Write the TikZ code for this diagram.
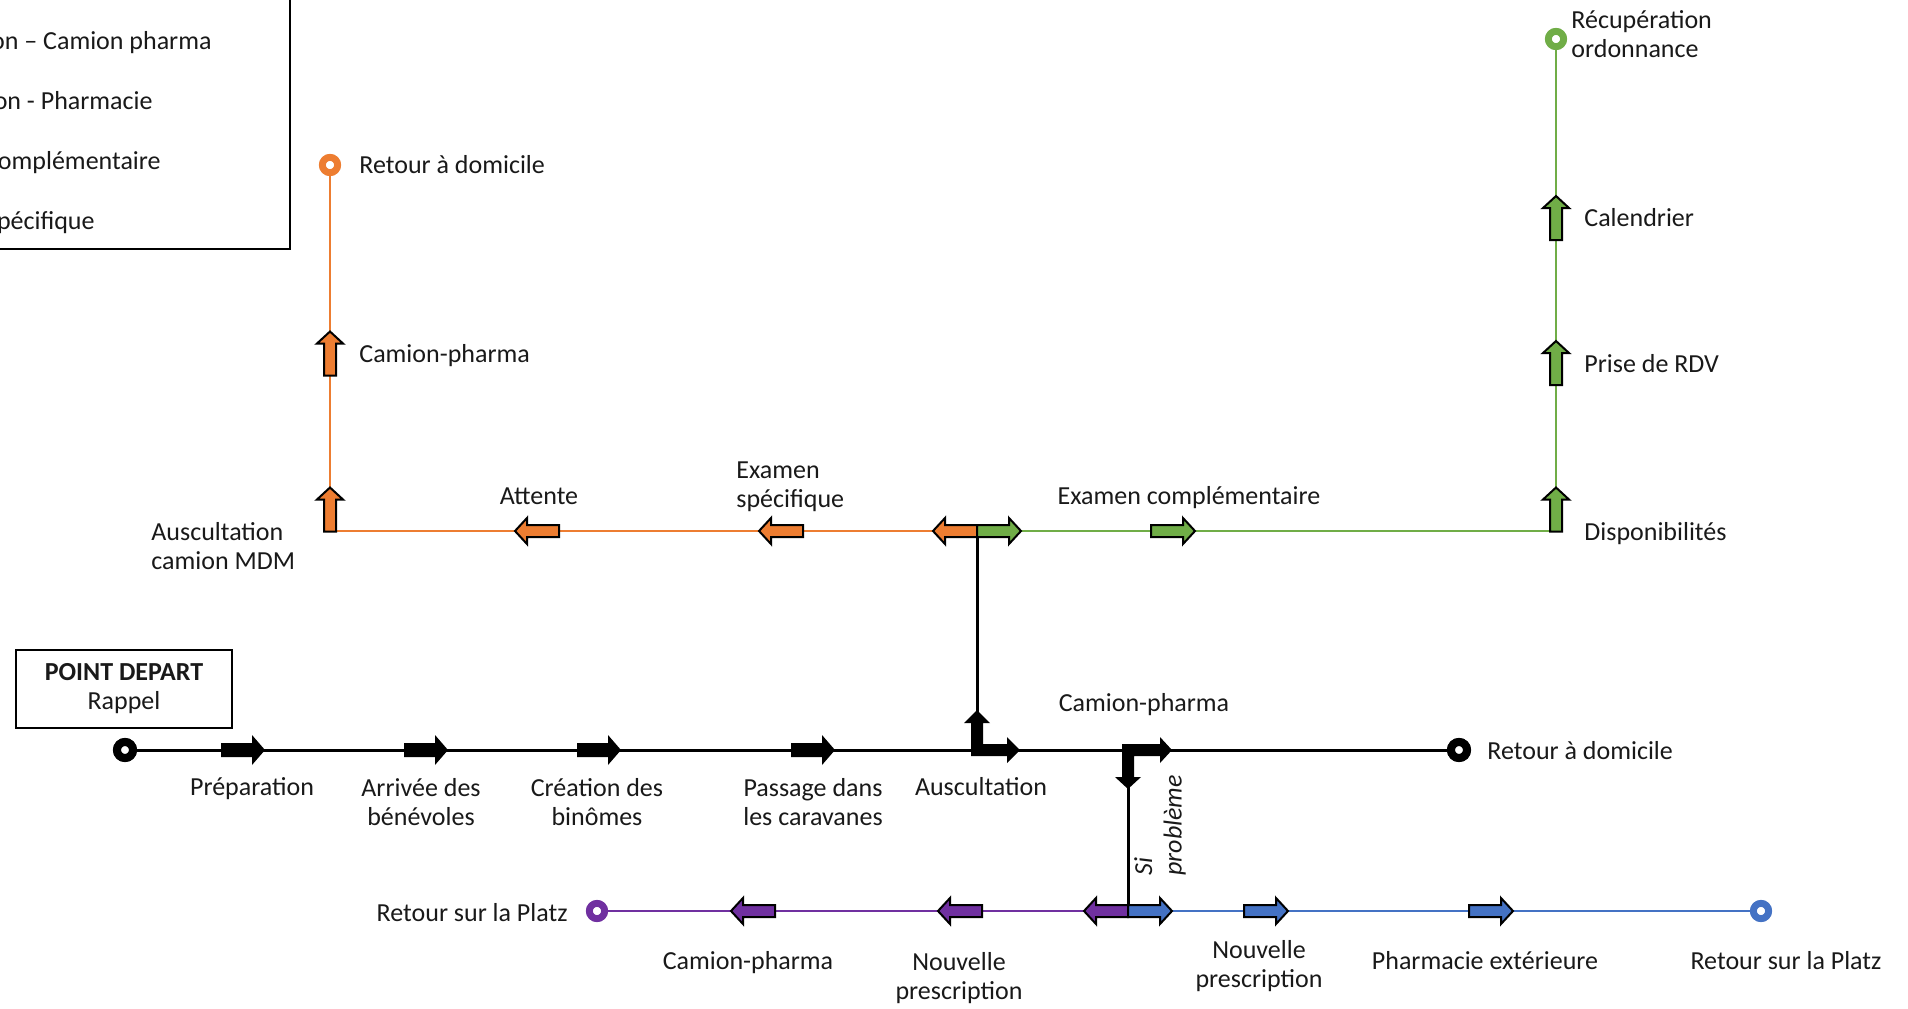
\documentclass[tikz,border=0pt]{standalone}
\usepackage{fontspec}
\setmainfont{Carlito}
\definecolor{corange}{HTML}{ED7D31}
\definecolor{cgreen}{HTML}{70AD47}
\definecolor{cblue}{HTML}{4472C4}
\definecolor{cpurple}{HTML}{7030A0}
\newcommand\lbfont{\fontsize{13}{14.8}\selectfont}
\tikzset{
  lab/.style={inner sep=0pt, font=\lbfont, text=black!90, align=center},
  labl/.style={lab, align=left},
  mk/.pic={\path[pic actions] (-22,-6) -- (10,-6) -- (10,-13) -- (22,0) -- (10,13) -- (10,6) -- (-22,6) -- cycle;},
  bmk/.pic={\path[pic actions] (-22,-7) -- (9,-7) -- (9,-15) -- (22,0) -- (9,15) -- (9,7) -- (-22,7) -- cycle;},
  cmk/.style={draw=black, line width=1pt, line join=miter},
  stn/.style={circle, draw=#1, fill=white, line width=3.4pt, minimum size=7.6pt, inner sep=0pt},
  bstn/.style={circle, draw=black, fill=white, line width=4pt, minimum size=8pt, inner sep=0pt},
  mainline/.style={line width=1.5pt, draw=black},
  colline/.style={line width=1.25pt, draw=#1},
}
\begin{document}
\begin{tikzpicture}[x=0.5pt, y=-0.5pt]
\useasboundingbox (0,0) rectangle (1908,1008);
% legend (cut by the page edge)
\draw[line width=1pt] (-20,-20) rectangle (290,249);
\node[labl, anchor=east] (lg1) at (212,44) {\strut ion – Camion pharma};
\node[labl, anchor=east] (lg2) at (153,104) {\strut ion - Pharmacie};
\node[labl, anchor=east] (lg3) at (161,164) {\strut complémentaire};
\node[labl, anchor=east] (lg4) at (95,224) {\strut spécifique};

% stations
\node[bstn] (s0) at (125,750) {};
\node[bstn] (s1) at (1459,750) {};
\node[stn=corange] (oe) at (330,165) {};
\node[stn=cgreen] (ge) at (1556,39) {};
\node[stn=cpurple] (pe) at (597,911) {};
\node[stn=cblue] (be) at (1761,911) {};
\coordinate (ja) at (977,750);
\coordinate (jb) at (977,531);
\coordinate (jc) at (1128,750);
\coordinate (jd) at (1128,911);
\coordinate (oc) at (330,531);
\coordinate (gc) at (1556,531);

% lines
\draw[colline=corange] (jb) -- (oc) -- (oe);
\draw[colline=cgreen] (jb) -- (gc) -- (ge);
\draw[colline=cpurple] (jd) -- (pe);
\draw[colline=cblue] (jd) -- (be);
\draw[mainline] (s0) -- (s1);
\draw[mainline] (ja) -- (jb);
\draw[mainline] (jc) -- (jd);

% redraw stations on top
\node[bstn] at (s0) {};
\node[bstn] at (s1) {};
\node[stn=corange] at (oe) {};
\node[stn=cgreen] at (ge) {};
\node[stn=cpurple] at (pe) {};
\node[stn=cblue] at (be) {};

% black arrows on main line
\pic[fill=black] at (243,750) {bmk};
\pic[fill=black] at (426,750) {bmk};
\pic[fill=black] at (599,750) {bmk};
\pic[fill=black] at (813,750) {bmk};
% L-shaped arrows
\fill[black] (971,756) -- (971,723) -- (964,723) -- (977,710) -- (990,723) -- (983,723) -- (983,744) -- (1007,744) -- (1007,737) -- (1020,750) -- (1007,763) -- (1007,756) -- cycle;
\fill[black] (1122,744) -- (1160,744) -- (1160,737) -- (1172,750) -- (1160,763) -- (1160,756) -- (1134,756) -- (1134,777) -- (1141,777) -- (1128,789) -- (1115,777) -- (1122,777) -- cycle;

% orange arrows
\pic[cmk, fill=corange, rotate=180] at (537,531) {mk};
\pic[cmk, fill=corange, rotate=180] at (781,531) {mk};
\pic[cmk, fill=corange, rotate=180] at (955,531) {mk};
\pic[cmk, fill=corange, rotate=90] at (330,509.5) {mk};
\pic[cmk, fill=corange, rotate=90] at (330,353.5) {mk};
% green arrows
\pic[cmk, fill=cgreen] at (999,531) {mk};
\pic[cmk, fill=cgreen] at (1173,531) {mk};
\pic[cmk, fill=cgreen, rotate=90] at (1556,509.5) {mk};
\pic[cmk, fill=cgreen, rotate=90] at (1556,363) {mk};
\pic[cmk, fill=cgreen, rotate=90] at (1556,218) {mk};
% purple arrows
\pic[cmk, fill=cpurple, rotate=180] at (753,911) {mk};
\pic[cmk, fill=cpurple, rotate=180] at (960,911) {mk};
\pic[cmk, fill=cpurple, rotate=180] at (1106,911) {mk};
% blue arrows
\pic[cmk, fill=cblue] at (1150,911) {mk};
\pic[cmk, fill=cblue] at (1266,911) {mk};
\pic[cmk, fill=cblue] at (1491,911) {mk};

% start box
\node[lab, draw=black, line width=1pt, minimum width=108pt, minimum height=39pt] (pd) at (124,689) {\strut\textbf{POINT DEPART}\\\strut Rappel};

% main line labels
\node[lab] (t1) at (252,790) {\strut Préparation};
\node[lab] (t2) at (421,805) {\strut Arrivée des\\\strut bénévoles};
\node[lab] (t3) at (597,805) {\strut Création des\\\strut binômes};
\node[lab] (t4) at (813,805) {\strut Passage dans\\\strut les caravanes};
\node[lab] (t5) at (981,790) {\strut Auscultation};
\node[lab] (t6) at (1144,706) {\strut Camion-pharma};
\node[lab, anchor=west] (t7) at (1487,754) {\strut Retour à domicile};
\node[lab, font=\lbfont\itshape, align=left, rotate=90, anchor=north west] (t8) at (1131,876) {\strut Si\\\strut problème};

% orange labels
\node[lab, anchor=west] (o1) at (359,168) {\strut Retour à domicile};
\node[lab, anchor=west] (o2) at (359,357) {\strut Camion-pharma};
\node[labl, anchor=west] (o3) at (151,549) {\strut Auscultation\\\strut camion MDM};
\node[lab] (o4) at (539,499) {\strut Attente};
\node[labl, anchor=west] (o5) at (736,487) {\strut Examen\\\strut spécifique};
\node[lab] (g0) at (1189,499) {\strut Examen complémentaire};

% green labels
\node[labl, anchor=west] (g1) at (1571,37) {\strut Récupération\\\strut ordonnance};
\node[lab, anchor=west] (g2) at (1584,221) {\strut Calendrier};
\node[lab, anchor=west] (g3) at (1584,367) {\strut Prise de RDV};
\node[lab, anchor=west] (g4) at (1584,535) {\strut Disponibilités};

% purple / blue labels
\node[lab, anchor=east] (p1) at (568,916) {\strut Retour sur la Platz};
\node[lab] (p2) at (748,964) {\strut Camion-pharma};
\node[lab] (p3) at (959,979) {\strut Nouvelle\\\strut prescription};
\node[lab] (b1) at (1259,967) {\strut Nouvelle\\\strut prescription};
\node[lab] (b2) at (1485,964) {\strut Pharmacie extérieure};
\node[lab] (b3) at (1786,964) {\strut Retour sur la Platz};
\end{tikzpicture}
\end{document}
